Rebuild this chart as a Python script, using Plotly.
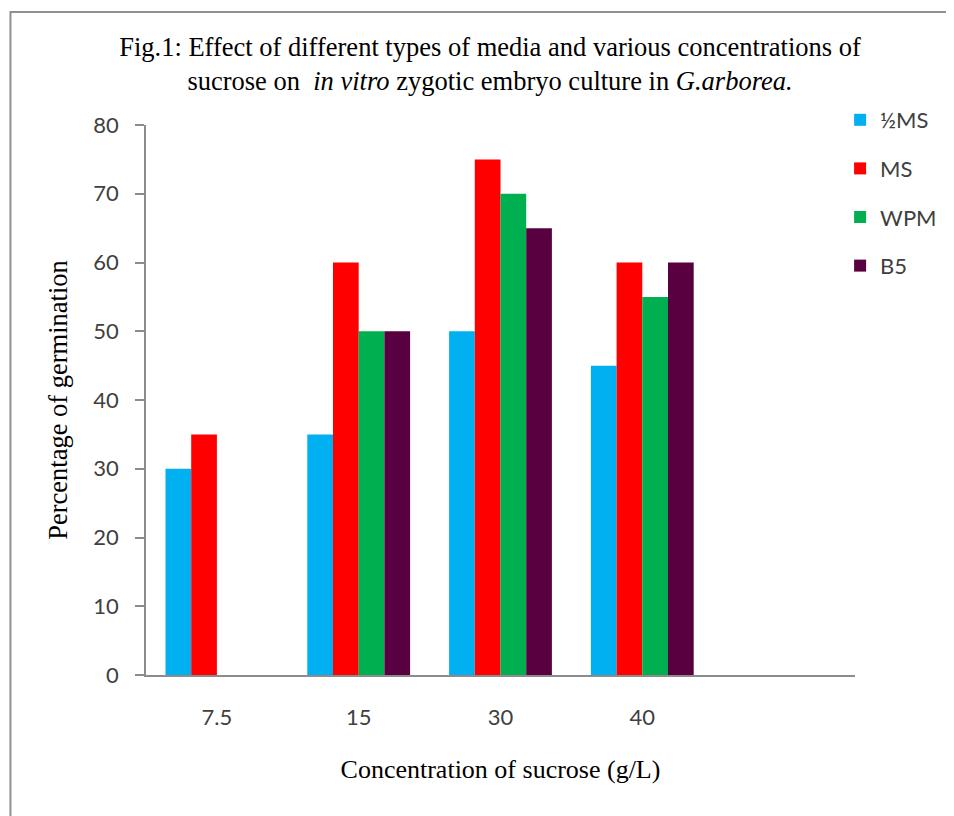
import plotly.graph_objects as go

categories = ["7.5", "15", "30", "40"]
half_ms = [30, 35, 50, 45]
ms = [35, 60, 75, 60]
wpm = [None, 50, 70, 55]
b5 = [None, 50, 65, 60]
series_names = ["½MS", "MS", "WPM", "B5"]
series_colors = ["#00B0F0", "#FF0000", "#00B050", "#580040"]
y_ticks = [0, 10, 20, 30, 40, 50, 60, 70, 80]

OFF = 8  # page body margin
W, H = 954 - OFF, 816 - OFF
# plot area in page pixels: x 146..860, y 125..675
L, R, T, B = 146 - OFF, 954 - 860, 125 - OFF, 816 - 675
pw, ph = W - L - R, H - T - B


def px_x(p):
    return (p - OFF - L) / pw


def px_y(p):
    return (H - B - (p - OFF)) / ph


fig = go.Figure()
for i, (name, vals, col) in enumerate(zip(series_names, [half_ms, ms, wpm, b5], series_colors)):
    fig.add_trace(go.Bar(x=categories, y=vals, name=name, marker_color=col,
                         marker_line_width=0, legendgroup=f"g{i}"))

fig.update_layout(
    width=W, height=H,
    margin=dict(l=L, r=R, t=T, b=B),
    paper_bgcolor="white", plot_bgcolor="white",
    barmode="group", bargap=0.275, bargroupgap=0,
    title=dict(
        text="Fig.1: Effect of different types of media and various concentrations of<br>"
             "sucrose on  <i>in vitro</i> zygotic embryo culture in <i>G.arborea.</i>",
        x=(490 - OFF) / W, xref="container", xanchor="center",
        y=1 - 48 / H, yref="container", yanchor="middle",
        font=dict(family="Liberation Serif", size=26.5, color="black"),
    ),
    legend=dict(
        x=px_x(845), y=px_y(99), xanchor="left", yanchor="top",
        font=dict(family="Lato", size=22, color="#404040"),
        traceorder="grouped", tracegroupgap=17,
        bgcolor="rgba(0,0,0,0)",
    ),
    xaxis=dict(
        type="category", range=[-0.5, 4.5],
        showline=True, linecolor="#8C8C8C", linewidth=1.5,
        ticks="", showgrid=False,
        tickfont=dict(family="Lato", size=22, color="#404040"),
        ticklabelstandoff=22,
        title=dict(text="Concentration of sucrose (g/L)",
                   font=dict(family="Liberation Serif", size=26, color="black"),
                   standoff=31),
    ),
    yaxis=dict(
        range=[0, 80], tickvals=y_ticks,
        showline=True, linecolor="#8C8C8C", linewidth=1.5,
        ticks="outside", ticklen=9, tickcolor="#8C8C8C", tickwidth=1.5,
        showgrid=False, zeroline=False,
        tickfont=dict(family="Lato", size=22, color="#404040"),
        ticklabelstandoff=12,
        title=dict(text="Percentage of germination",
                   font=dict(family="Liberation Serif", size=26.5, color="black"),
                   standoff=18),
    ),
    shapes=[dict(type="rect", xref="paper", yref="paper",
                 x0=px_x(9.5), x1=px_x(980), y0=px_y(840), y1=px_y(12),
                 line=dict(color="#909090", width=2), fillcolor="rgba(0,0,0,0)",
                 layer="below")],
)

fig.write_html("out.html")
